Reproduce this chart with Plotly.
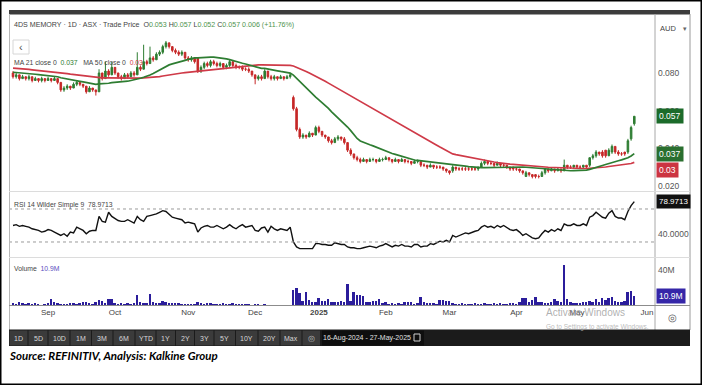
import pandas as pd
import plotly.graph_objects as go

# ---------------- data ----------------
holidays = ["2024-12-25", "2024-12-26", "2025-01-01", "2025-01-27",
            "2025-04-18", "2025-04-21", "2025-04-25"]

open_ = [
    .080, .078, .079, .077, .078, .077, .078, .076, .077, .076,
    .077, .076, .077, .076, .077, .075, .071, .072, .073, .072,
    .074, .075, .074, .073, .070, .072, .071, .070, .080, .077,
    .081, .079, .083, .080, .078, .077, .079, .078, .080, .079,
    .083, .082, .086, .085, .088, .087, .090, .091, .094, .096,
    .094, .092, .091, .090, .091, .088, .087, .088, .088, .081,
    .083, .085, .084, .086, .085, .084, .085, .083, .084, .086,
    .084, .083, .083, .082, .082, .081, .079, .077, .078, .077,
    .081, .078, .077, .078, .077, .078, .077, .078, .067, .061,
    .050, .046, .047, .046, .048, .047, .051, .049, .047, .046,
    .044, .043, .045, .046, .045, .043, .039, .037, .035, .034,
    .033, .034, .033, .034, .034, .033, .034, .034, .035, .034,
    .033, .034, .033, .034, .033, .033, .032, .033, .033, .031,
    .031, .030, .031, .030, .030, .030, .029, .028, .028, .030,
    .029, .029, .029, .029, .029, .029, .029, .030, .032, .033,
    .032, .032, .031, .032, .031, .031, .030, .030, .029, .029,
    .028, .025, .027, .026, .026, .025, .025, .027, .029, .028,
    .029, .028, .029, .028, .031, .030, .030, .031, .030, .030,
    .031, .031, .035, .036, .038, .038, .039, .036, .038, .041,
    .038, .037, .038, .038, .045, .053]

close = [
    .078, .079, .077, .078, .077, .078, .076, .077, .076, .077,
    .076, .077, .076, .077, .075, .071, .072, .073, .072, .074,
    .075, .074, .073, .070, .072, .071, .070, .080, .077, .081,
    .079, .083, .080, .078, .077, .079, .078, .080, .079, .083,
    .082, .086, .085, .088, .087, .090, .091, .094, .096, .094,
    .092, .091, .090, .091, .088, .087, .088, .086, .081, .083,
    .085, .084, .086, .085, .084, .085, .083, .084, .086, .084,
    .083, .083, .082, .082, .081, .079, .077, .078, .077, .081,
    .078, .077, .078, .077, .078, .077, .078, .079, .061, .050,
    .046, .047, .046, .048, .047, .051, .049, .047, .046, .044,
    .043, .045, .046, .045, .043, .039, .037, .035, .034, .033,
    .034, .033, .034, .034, .033, .034, .034, .035, .034, .033,
    .034, .033, .034, .033, .033, .032, .033, .033, .031, .031,
    .030, .031, .030, .030, .030, .029, .028, .027, .030, .029,
    .029, .029, .029, .029, .029, .029, .030, .032, .033, .032,
    .032, .031, .032, .031, .031, .030, .029, .029, .029, .028,
    .027, .027, .026, .025, .025, .025, .027, .029, .028, .029,
    .028, .029, .028, .031, .030, .030, .031, .030, .030, .031,
    .030, .035, .036, .038, .037, .036, .036, .039, .041, .038,
    .037, .037, .037, .044, .051, .057]

high = [
    .081, .080, .079, .079, .078, .079, .078, .078, .077, .078,
    .077, .078, .077, .078, .077, .075, .073, .074, .073, .075,
    .076, .075, .074, .073, .073, .072, .071, .082, .080, .086,
    .082, .086, .083, .080, .079, .080, .080, .081, .081, .091,
    .084, .095, .087, .094, .089, .091, .092, .095, .097, .096,
    .094, .093, .092, .092, .091, .089, .089, .088, .088, .084,
    .086, .086, .087, .087, .086, .086, .085, .085, .087, .086,
    .085, .084, .084, .083, .083, .081, .079, .079, .079, .082,
    .081, .079, .079, .078, .079, .078, .079, .080, .068, .062,
    .051, .048, .047, .049, .048, .052, .052, .049, .047, .046,
    .045, .046, .047, .046, .046, .043, .040, .037, .036, .035,
    .035, .034, .035, .035, .034, .035, .035, .036, .035, .034,
    .035, .034, .035, .034, .034, .033, .034, .034, .033, .032,
    .031, .032, .031, .031, .031, .030, .029, .028, .031, .030,
    .030, .030, .030, .030, .030, .030, .030, .033, .034, .033,
    .033, .032, .033, .032, .032, .031, .030, .030, .030, .029,
    .028, .028, .027, .026, .026, .026, .028, .029, .029, .030,
    .029, .030, .029, .034, .031, .031, .031, .031, .031, .031,
    .031, .035, .037, .039, .038, .039, .039, .040, .042, .041,
    .039, .038, .038, .045, .052, .057]

low = [
    .077, .077, .076, .077, .076, .076, .075, .076, .075, .075,
    .075, .076, .075, .076, .074, .070, .070, .071, .071, .072,
    .073, .073, .072, .069, .070, .070, .068, .070, .076, .077,
    .078, .079, .079, .077, .076, .077, .077, .078, .078, .079,
    .081, .082, .084, .085, .086, .087, .089, .090, .093, .093,
    .091, .090, .089, .089, .087, .086, .086, .085, .080, .080,
    .082, .083, .083, .084, .083, .083, .082, .082, .083, .083,
    .082, .082, .081, .081, .080, .078, .074, .076, .076, .077,
    .077, .076, .076, .076, .077, .076, .077, .077, .060, .049,
    .045, .045, .045, .046, .046, .047, .048, .046, .045, .043,
    .042, .043, .044, .044, .042, .038, .036, .034, .033, .032,
    .033, .032, .033, .033, .032, .033, .033, .034, .033, .032,
    .033, .032, .033, .032, .032, .031, .032, .032, .030, .030,
    .029, .030, .029, .029, .029, .028, .027, .026, .027, .028,
    .028, .028, .028, .028, .028, .028, .028, .030, .031, .031,
    .031, .030, .031, .030, .030, .029, .028, .028, .028, .027,
    .026, .025, .025, .024, .024, .024, .025, .026, .027, .028,
    .027, .028, .027, .028, .029, .029, .029, .029, .029, .029,
    .029, .030, .034, .035, .036, .035, .035, .036, .037, .037,
    .036, .036, .036, .037, .044, .052]

# closes before the visible window (feed the moving averages only)
prior_close = [
    .083, .084, .086, .085, .087, .086, .085, .084, .083, .085,
    .086, .085, .084, .085, .084, .083, .085, .086, .085, .084,
    .085, .084, .083, .084, .085, .083,
    .081, .080, .082, .081, .080, .081, .079, .080, .081, .082,
    .080, .081, .080, .079, .081, .080, .081, .082, .080, .081,
    .080, .080, .081]

rsi = [
    50, 51, 49, 50, 49, 48, 46, 45, 44, 42,
    43, 45, 44, 42, 40, 38, 40, 37, 42, 41,
    48, 46, 44, 40, 43, 44, 44, 61, 55, 54,
    66, 61, 58, 56, 55, 55, 57, 55, 53, 61,
    57, 55, 61, 62, 63, 64, 66, 68, 67, 63,
    60, 59, 58, 57, 53, 54, 53, 52, 42, 47,
    49, 50, 48, 48, 50, 48, 46, 48, 51, 48,
    46, 49, 51, 48, 49, 50, 44, 43, 47, 48,
    42, 49, 46, 44, 46, 45, 44, 48, 30, 24,
    22, 22, 22, 22, 22, 28, 28, 27, 27, 26,
    26, 29, 28, 27, 27, 24, 23, 23, 22, 22,
    23, 24, 25, 24, 23, 25, 26, 28, 26, 24,
    26, 25, 27, 25, 25, 24, 27, 27, 24, 25,
    25, 28, 27, 29, 31, 30, 32, 30, 38, 36,
    38, 39, 41, 40, 42, 43, 44, 48, 50, 48,
    49, 47, 50, 48, 50, 47, 45, 44, 45, 42,
    38, 40, 37, 35, 34, 35, 40, 44, 42, 45,
    43, 46, 44, 52, 50, 50, 52, 50, 50, 52,
    50, 60, 62, 66, 63, 60, 59, 65, 68, 61,
    59, 59, 57, 67, 74, 78.9713]

volume_m = [
    3, 2, 4, 3, 2, 3, 2, 3, 2, 1,
    2, 3, 8, 4, 3, 2, 2, 2, 3, 3,
    2, 3, 4, 5, 3, 2, 5, 7, 6, 3,
    8, 8, 3, 2, 3, 2, 3, 2, 3, 12.6,
    4, 3, 3, 13.7, 4, 3, 3, 6, 4, 3,
    3, 3, 3, 2, 2, 2, 2, 2, 5, 3,
    2, 3, 3, 2, 2, 2, 3, 2, 2, 3,
    2, 2, 2, 2, 2, 1, 2, 2, 1, 2,
    1, 1, 1, 1, 1, 1, 1, 1, 18, 20,
    14, 6, 16, 7, 4, 5, 9, 6, 6, 8,
    4, 4, 4, 6, 5, 24, 6, 16, 12, 12,
    11, 5, 4, 6, 6, 8, 3, 4, 2, 3,
    2, 3, 2, 4, 5, 5, 2, 3, 10, 4,
    3, 3, 3, 2, 7, 7, 6, 6, 3, 2,
    2, 3, 2, 2, 2, 3, 2, 2, 3, 2,
    2, 3, 2, 3, 2, 2, 3, 3, 2, 4,
    9, 9, 4, 7, 10, 5, 4, 3, 3, 4,
    8, 6, 4, 45, 8, 4, 3, 3, 3, 4,
    4, 6, 5, 8, 5, 9, 7, 9, 10, 6,
    4, 5, 6, 15, 17, 10.9]

month_keys = ["2024-09", "2024-10", "2024-11", "2024-12", "2025-01",
              "2025-02", "2025-03", "2025-04", "2025-05", "2025-06"]
month_labels = ["Sep", "Oct", "Nov", "Dec", "<b>2025</b>", "Feb", "Mar", "Apr", "May", "Jun"]

price_ticks = [0.02, 0.04, 0.06, 0.08]
price_tick_labels = ["0.020", "0.040", "0.060", "0.080"]
rsi_ticks = [40]
rsi_tick_labels = ["40.0000"]
vol_ticks = [40]
vol_tick_labels = ["40M"]

toolbar_buttons = ["1D", "5D", "10D", "1M", "3M", "6M", "YTD", "1Y", "2Y", "3Y",
                   "5Y", "10Y", "20Y", "Max"]

# ---------------- derived ----------------
days = pd.bdate_range("2024-08-16", "2025-06-30")
days = days[~days.isin(pd.to_datetime(holidays))]
n = len(close)
idx = list(range(n))
tick_vals = []
for k in month_keys:
    pos = [i for i, d in enumerate(days) if d.strftime("%Y-%m") == k]
    tick_vals.append(pos[0])

full = pd.Series(prior_close + close)
ma21 = full.rolling(21).mean().tolist()[-n:]
ma50 = full.rolling(50).mean().tolist()[-n:]

# ---------------- styling ----------------
W, H = 702, 385
SANS = "Liberation Sans, Arial, sans-serif"
GREEN = "#2e7d32"
RED = "#c62828"
MA_RED = "#cf3a48"
VOL = "#2b1d9b"


def fx(p):
    return p / W


def fy(p):
    return 1 - p / H


fig = go.Figure()
fig.add_trace(go.Candlestick(
    x=idx, open=open_, high=high, low=low, close=close,
    increasing=dict(line=dict(color=GREEN, width=1), fillcolor=GREEN),
    decreasing=dict(line=dict(color=RED, width=1), fillcolor=RED),
    whiskerwidth=0, xaxis="x", yaxis="y", showlegend=False))
fig.add_trace(go.Scatter(x=idx, y=ma50, mode="lines", line=dict(color=MA_RED, width=1.7),
                         xaxis="x", yaxis="y", showlegend=False))
fig.add_trace(go.Scatter(x=idx, y=ma21, mode="lines", line=dict(color=GREEN, width=1.7),
                         xaxis="x", yaxis="y", showlegend=False))
fig.add_trace(go.Scatter(x=idx, y=rsi, mode="lines", line=dict(color="#111111", width=1.4),
                         xaxis="x", yaxis="y2", showlegend=False))
fig.add_trace(go.Bar(x=idx, y=volume_m, marker=dict(color=VOL, line=dict(width=0)),
                     width=0.62, xaxis="x", yaxis="y3", showlegend=False))

yax = dict(side="right", anchor="x", showticklabels=False, showgrid=False,
           zeroline=False, ticks="", fixedrange=True)
fig.update_layout(
    width=W, height=H, margin=dict(l=0, r=0, t=0, b=0),
    paper_bgcolor="white", plot_bgcolor="white",
    showlegend=False, bargap=0,
    xaxis=dict(domain=[fx(9), fx(655)], range=[-1.26, 201.5], anchor="y3",
               tickmode="array", tickvals=tick_vals, ticktext=month_labels,
               tickfont=dict(family=SANS, size=8, color="#444444"),
               showgrid=False, zeroline=False, showline=False, ticks="",
               rangeslider=dict(visible=False), fixedrange=True),
    yaxis=dict(domain=[fy(191), fy(15)], range=[0.0173, 0.1108], **yax),
    yaxis2=dict(domain=[fy(257), fy(192)], range=[11.8, 90.6], **yax),
    yaxis3=dict(domain=[fy(306), fy(258)], range=[0, 53.3], **yax),
)

shapes = []


def rect(x0, y0, x1, y1, fill=None, line=None, lw=1, layer="above"):
    shapes.append(dict(type="rect", xref="paper", yref="paper",
                       x0=fx(x0), x1=fx(x1), y0=fy(y1), y1=fy(y0),
                       fillcolor=fill if fill else "rgba(0,0,0,0)",
                       line=dict(color=line if line else "rgba(0,0,0,0)", width=lw if line else 0),
                       layer=layer))


def hline(x0, x1, y, color, lw=1):
    shapes.append(dict(type="line", xref="paper", yref="paper",
                       x0=fx(x0), x1=fx(x1), y0=fy(y), y1=fy(y),
                       line=dict(color=color, width=lw)))


def vline(x, y0, y1, color, lw=1):
    shapes.append(dict(type="line", xref="paper", yref="paper",
                       x0=fx(x), x1=fx(x), y0=fy(y0), y1=fy(y1),
                       line=dict(color=color, width=lw)))


# RSI reference lines
for lvl in (70, 30):
    shapes.append(dict(type="line", xref="paper", yref="y2", x0=fx(9), x1=fx(655), y0=lvl, y1=lvl,
                       line=dict(color="#9a9a9a", width=1, dash="dot")))

# frame
rect(0.75, 0.75, 701.25, 384.25, line="#000000", lw=1.5)
rect(9, 10, 690, 14.5, fill="#3c3c3c")
vline(9.5, 14, 330, "#b8b8b8")
vline(690, 14, 330, "#9a9a9a")
vline(655, 14, 330, "#a8a8a8")
hline(9, 690, 191.5, "#dcdcdc")
hline(9, 690, 257.5, "#dcdcdc")
hline(9, 690, 305.5, "#8c8c8c")
# "<" button
rect(13, 40, 29, 54, fill="white", line="#d6d6d6")
# toolbar
rect(9, 329.5, 690, 346, fill="#1b1b1b")
edges = [9, 28, 48, 70, 91.5, 113, 135, 156, 175.5, 194.5, 214, 235.5, 258, 280, 302]
for a, b in zip(edges[:-1], edges[1:]):
    rect(a + 0.5, 330.5, b - 0.5, 345.5, fill="#3b3b3b")
rect(302.5, 330.5, 320, 345.5, fill="#3b3b3b")
rect(322, 330.5, 424, 345.5, fill="#0e0e0e")
rect(414, 334, 420, 341, line="#cfcfcf", lw=1)

annotations = []


def text(x, y, s, size=9, color="#444444", family=SANS, anchor="left"):
    annotations.append(dict(xref="paper", yref="paper", x=fx(x), y=fy(y), text=s, showarrow=False,
                            xanchor=anchor, yanchor="middle", borderpad=0,
                            font=dict(family=family, size=size, color=color)))


def ylabel(val, yref, s, size=8.5, color="#555555"):
    annotations.append(dict(xref="paper", yref=yref, x=fx(657), y=val, text=s, showarrow=False,
                            xanchor="left", yanchor="middle", borderpad=0,
                            font=dict(family=SANS, size=size, color=color)))


def ybox(val, yref, s, bg, yshift=0, size=8.5):
    annotations.append(dict(xref="paper", yref=yref, x=fx(656), y=val, text=s, showarrow=False,
                            xanchor="left", yanchor="middle", yshift=yshift,
                            font=dict(family=SANS, size=size, color="white"),
                            bgcolor=bg, borderpad=2))


# axis tick labels (drawn at the axes' own data positions)
for v, s in zip(price_ticks, price_tick_labels):
    ylabel(v, "y", s)
for v, s in zip(rsi_ticks, rsi_tick_labels):
    ylabel(v, "y2", s)
for v, s in zip(vol_ticks, vol_tick_labels):
    ylabel(v, "y3", s)

vg = "#4e944e"
chg = close[-1] - close[-2]
pct = chg / close[-2] * 100
header = ("4DS MEMORY · 1D · ASX · Trade Price  "
          f"O<span style='color:{vg}'>{open_[-1]:.3f}</span> "
          f"H<span style='color:{vg}'>{high[-1]:.3f}</span> "
          f"L<span style='color:{vg}'>{low[-1]:.3f}</span> "
          f"C<span style='color:{vg}'>{close[-1]:.3f}</span> "
          f"<span style='color:{vg}'>{chg:.3f} (+{pct:.2f}%)</span>")
SMALL = 6.8
text(13, 25, header, size=7.1)
text(21, 47, "‹", size=11, color="#555555", anchor="center")
text(13, 62, f"MA 21 close 0  <span style='color:{GREEN}'>{ma21[-1]:.3f}</span>   "
             f"MA 50 close 0  <span style='color:{MA_RED}'>{ma50[-1]:.2f}</span>", size=SMALL)
text(13, 205, f"RSI 14 Wilder Simple 9  {rsi[-1]:.4f}", size=SMALL)
text(13, 268, f"Volume  <span style='color:#5a4fc0'>{volume_m[-1]:.1f}M</span>", size=SMALL)
text(659, 28, "AUD", size=7.5, color="#444444")
text(685, 28, "▾", size=7, color="#666666", anchor="center")
text(672, 317, "◎", size=10, color="#555555", anchor="center")

ybox(close[-1], "y", f"{close[-1]:.3f}", "#1c6b2a")
ybox(ma21[-1], "y", f"{ma21[-1]:.3f}", "#2a6f2f")
ybox(ma50[-1], "y", f"{ma50[-1]:.2f}", "#cc3441", yshift=-8)
ybox(rsi[-1], "y2", f"{rsi[-1]:.4f}", "#111111", size=8)
ybox(volume_m[-1], "y3", f"{volume_m[-1]:.1f}M", "#3526a8")

centers = [(a + b) / 2 for a, b in zip(edges[:-1], edges[1:])]
for lab, c in zip(toolbar_buttons, centers):
    text(c, 338, lab, size=7, color="#d8d8d8", anchor="center")
text(311, 338, "◎", size=8, color="#bbbbbb", anchor="center")
text(367, 338, f"{days[0].strftime('%d-%b-%Y')} - {days[n - 1].strftime('%d-%b-%Y')}",
     size=7, color="#e0e0e0", anchor="center")

text(545, 312, "Activate Windows", size=10, color="rgba(150,150,150,0.75)")
text(545, 327, "Go to Settings to activate Windows.", size=6.5, color="rgba(170,170,170,0.8)")

text(8, 355, "<b><i>Source: REFINITIV, Analysis: Kalkine Group</i></b>", size=11.5,
     color="#000000", family="Lato, Liberation Sans, sans-serif")

fig.update_layout(shapes=shapes, annotations=annotations)
fig.write_html("out.html", config={"displayModeBar": False},
               post_script="document.body.style.margin='0';document.body.style.overflow='hidden';")
